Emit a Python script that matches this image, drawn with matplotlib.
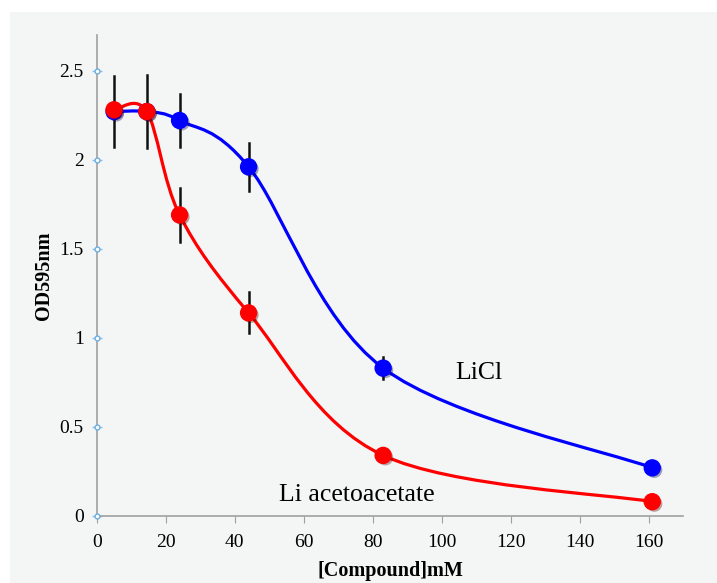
import matplotlib
matplotlib.use('Agg')
import matplotlib.pyplot as plt
import matplotlib.patheffects as pe
from matplotlib.path import Path
from matplotlib.patches import PathPatch, Rectangle
import numpy as np

conc = [5, 14.5, 24, 44, 83, 161]
licl = [2.27, 2.27, 2.22, 1.96, 0.83, 0.27]
licl_err = [0.2, 0.205, 0.15, 0.135, 0.06, 0.0]
liacac = [2.28, 2.27, 1.69, 1.14, 0.34, 0.08]
liacac_err = [0.0, 0.0, 0.15, 0.115, 0.0, 0.0]
xticks = [0, 20, 40, 60, 80, 100, 120, 140, 160]
yticks = [0, 0.5, 1, 1.5, 2, 2.5]
yticklabels = ['0', '0.5', '1', '1.5', '2', '2.5']

def smooth_path(x, y):
	# spreadsheet-style smoothed line: bezier segments through each point
	p = np.column_stack([x, y]).astype(float)
	verts = [p[0]]
	codes = [Path.MOVETO]
	n = len(p)
	for i in range(n - 1):
		prev = p[i - 1] if i > 0 else p[i]
		nxt = p[i + 2] if i + 2 < n else p[i + 1]
		c1 = p[i] + (p[i + 1] - prev) / 6
		c2 = p[i + 1] - (nxt - p[i]) / 6
		verts += [c1, c2, p[i + 1]]
		codes += [Path.CURVE4] * 3
	return Path(verts, codes)

bg = '#f4f5f5'
plt.rcParams['font.family'] = 'Liberation Serif'
fig = plt.figure(figsize=(7.17, 5.83), dpi=100, facecolor='white')
# gray panel with a thin white margin on the left and top
fig.patches.append(Rectangle((10 / 717, 0), 1, 1 - 12 / 583, transform=fig.transFigure,
	facecolor=bg, edgecolor='none', zorder=-10))
ax = fig.add_axes([0.135, 0.115, 0.818, 0.825], facecolor=bg)

shadow = [pe.SimplePatchShadow(offset=(1.5, -1.5), alpha=0.35), pe.Normal()]
for ys, err, col in [(liacac, liacac_err, '#ff0000'), (licl, licl_err, '#0000ff')]:
	ax.add_patch(PathPatch(smooth_path(conc, ys), fill=False, edgecolor=col, lw=2.3, zorder=2))
for ys, err, col in [(liacac, liacac_err, '#ff0000'), (licl, licl_err, '#0000ff')]:
	for xv, yv, ev in zip(conc, ys, err):
		if ev > 0:
			ax.plot([xv, xv], [yv - ev, yv + ev], color='#111111', lw=1.8, zorder=4)
for ys, col, z in [(licl, '#0000ff', 5), (liacac, '#ff0000', 6)]:
	ax.plot(conc, ys, 'o', color=col, ms=11.5, mec=col, zorder=z, path_effects=shadow)

ax.set_xlim(0, 170)
ax.set_ylim(0, 2.7)
ax.set_xticks(xticks)
ax.set_yticks(yticks)
ax.set_yticklabels(yticklabels)
for s in ['top', 'right']:
	ax.spines[s].set_visible(False)
for s in ['left', 'bottom']:
	ax.spines[s].set_color('#a0a0a0')
	ax.spines[s].set_linewidth(1.2)
ax.tick_params(axis='x', direction='out', length=5, color='#a0a0a0', labelsize=14, pad=8)
ax.tick_params(axis='y', direction='inout', length=7, width=1, color='#8cc0e8', labelsize=14, pad=6)
ax.plot([0] * len(yticks), yticks, 'o', ms=3.5, mfc='white', mec='#6aaee0', mew=1, clip_on=False, zorder=7)
ax.set_xlim(0, 170)

ax.set_xlabel('[Compound]mM', fontsize=14.5, fontweight='bold', labelpad=7)
ax.set_ylabel('OD595nm', fontsize=14.5, fontweight='bold', labelpad=4)
ax.text(110.8, 0.80, 'LiCl', fontsize=18.5, ha='center', va='center')
ax.text(75.4, 0.118, 'Li acetoacetate', fontsize=18.5, ha='center', va='center')

plt.savefig('out.png', dpi=100, facecolor='white')
